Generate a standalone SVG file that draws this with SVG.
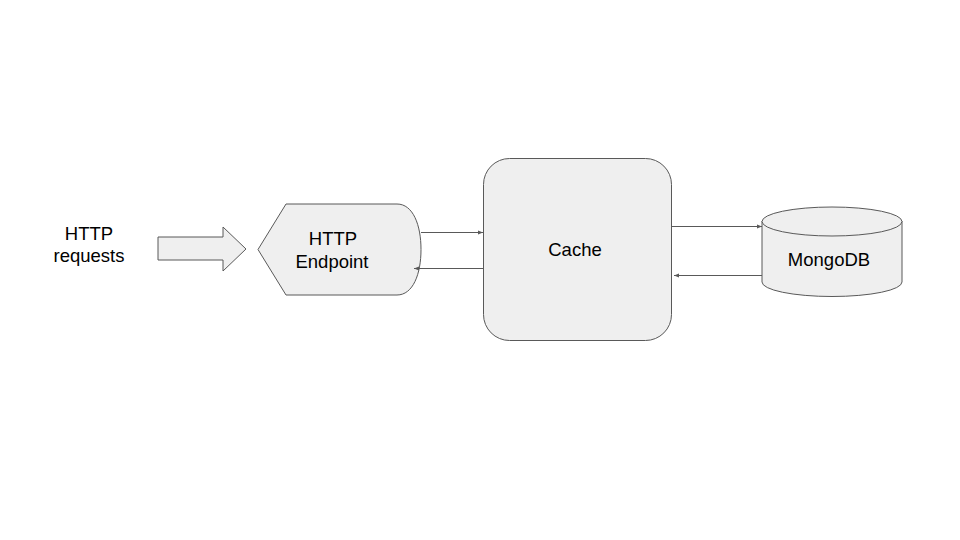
<svg xmlns="http://www.w3.org/2000/svg" width="960" height="540" viewBox="0 0 960 540">
<style>
.shape{fill:#efefef;stroke:#595959;stroke-width:1}
.lbl{font-family:"Liberation Sans",Arial,sans-serif;font-size:18.5px;fill:#000;text-anchor:middle}
.conn{stroke:#595959;stroke-width:1;fill:none;marker-end:url(#ah)}
</style>
<defs>
<marker id="ah" markerWidth="6" markerHeight="6" refX="5" refY="3" orient="auto" markerUnits="userSpaceOnUse">
<path d="M0,1 L5,3 L0,5 Z" fill="#595959"/>
</marker>
</defs>
<rect width="960" height="540" fill="#fff"/>
<g id="requests">
<text class="lbl" x="89" y="240">HTTP</text>
<text class="lbl" x="89" y="262">requests</text>
</g>
<g id="input-arrow">
<path class="shape" d="M158,237 L223,237 L223,227 L246,249 L223,271 L223,260 L158,260 Z"/>
</g>
<g id="endpoint">
<path class="shape" d="M258,249.5 L286,204 L397,204 C413,204 421,225 421,249.5 C421,274 413,295 397,295 L286,295 Z"/>
<text class="lbl" x="333" y="245">HTTP</text>
<text class="lbl" x="332" y="268">Endpoint</text>
</g>
<g id="cache">
<rect class="shape" x="483.5" y="158.5" width="188" height="182" rx="26" ry="26"/>
<text class="lbl" x="575" y="256">Cache</text>
</g>
<g id="mongodb">
<path class="shape" d="M762,221 L762,282 A70,14.5 0 0 0 902,282 L902,221"/>
<ellipse class="shape" cx="832" cy="221.5" rx="70" ry="14.5"/>
<text class="lbl" x="829" y="266">MongoDB</text>
</g>
<g id="connectors">
<line class="conn" x1="421" y1="232.5" x2="483" y2="232.5"/>
<line class="conn" x1="483" y1="268.5" x2="414" y2="268.5"/>
<line class="conn" x1="672" y1="226.5" x2="762" y2="226.5"/>
<line class="conn" x1="762" y1="275.5" x2="674" y2="275.5"/>
</g>
</svg>
